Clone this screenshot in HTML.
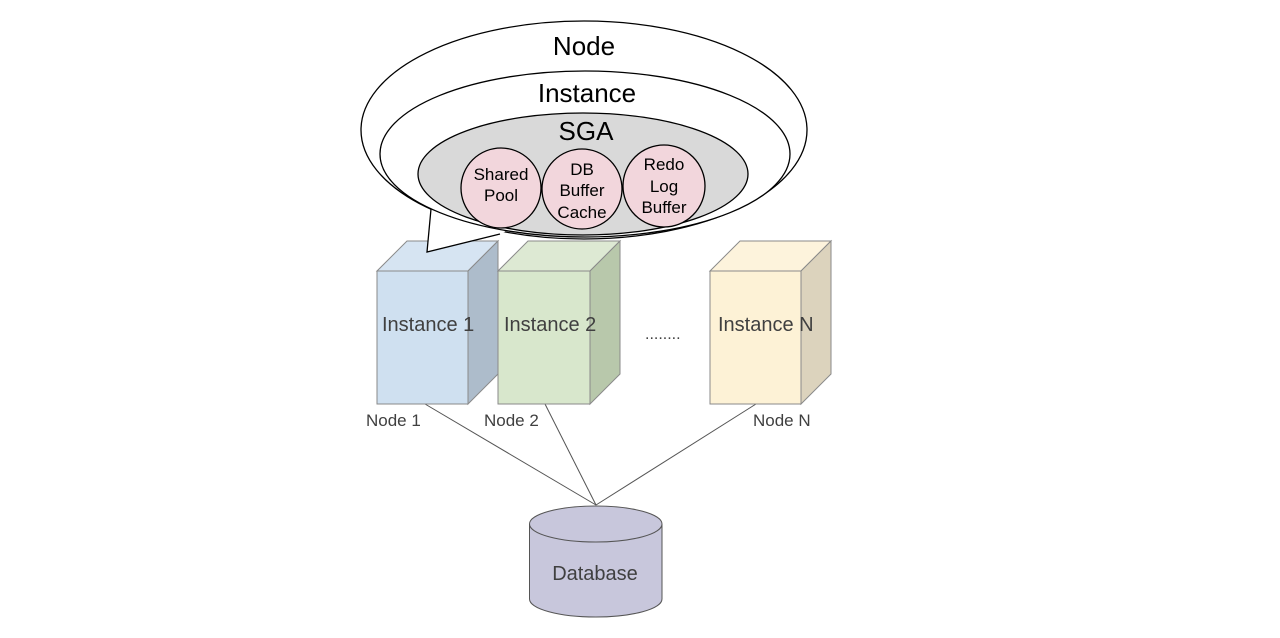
<!DOCTYPE html>
<html><head><meta charset="utf-8"><style>
html,body{margin:0;padding:0;background:#fff;}
svg{display:block;}
text{font-family:"Liberation Sans",sans-serif;}
</style></head><body>
<svg width="1280" height="638" viewBox="0 0 1280 638" xmlns="http://www.w3.org/2000/svg">
<g stroke="#555" stroke-width="1" fill="none">
<line x1="425" y1="404" x2="596" y2="505"/>
<line x1="545" y1="404" x2="596" y2="505"/>
<line x1="756" y1="404" x2="596" y2="505"/>
</g>
<!-- boxes -->
<g stroke="#8a8a8a" stroke-width="1">
<polygon points="377,271 407,241 498,241 468,271" fill="#d6e4f2"/>
<polygon points="468,271 498,241 498,374 468,404" fill="#adbccb"/>
<rect x="377" y="271" width="91" height="133" fill="#cfe0f0"/>
<polygon points="498,271 528,241 620,241 590,271" fill="#dde9d3"/>
<polygon points="590,271 620,241 620,374 590,404" fill="#b8c8ab"/>
<rect x="498" y="271" width="92" height="133" fill="#d8e7cc"/>
<polygon points="710,271 740,241 831,241 801,271" fill="#fdf3dc"/>
<polygon points="801,271 831,241 831,374 801,404" fill="#dcd3bd"/>
<rect x="710" y="271" width="91" height="133" fill="#fdf2d6"/>
</g>
<!-- Node ellipse -->
<ellipse cx="584" cy="130" rx="223" ry="109" fill="#fff" stroke="#000" stroke-width="1.3"/>
<!-- callout tail -->
<polygon points="431,205 427,252 505,232 500,222" fill="#fff"/>
<polyline points="431,209 427,252 500,234" fill="none" stroke="#000" stroke-width="1.3"/>
<!-- Instance ellipse -->
<ellipse cx="585" cy="154" rx="205" ry="83" fill="#fff" stroke="#000" stroke-width="1.3"/>
<!-- SGA -->
<ellipse cx="583" cy="174" rx="165" ry="61" fill="#d9d9d9" stroke="#000" stroke-width="1.3"/>
<text x="584" y="55" font-size="26" text-anchor="middle" fill="#000">Node</text>
<text x="587" y="102" font-size="26" text-anchor="middle" fill="#000">Instance</text>
<text x="586" y="140" font-size="26" text-anchor="middle" fill="#000">SGA</text>
<g fill="#f2d6dc" stroke="#000" stroke-width="1.3">
<circle cx="501" cy="188" r="40"/>
<circle cx="582" cy="189" r="40"/>
<circle cx="664" cy="186" r="41"/>
</g>
<g font-size="17" text-anchor="middle" fill="#000">
<text x="501" y="180">Shared</text><text x="501" y="201">Pool</text>
<text x="582" y="175">DB</text><text x="582" y="196">Buffer</text><text x="582" y="218">Cache</text>
<text x="664" y="170">Redo</text><text x="664" y="192">Log</text><text x="664" y="213">Buffer</text>
</g>
<g font-size="20" fill="#404040">
<text x="382" y="331">Instance 1</text>
<text x="504" y="331">Instance 2</text>
<text x="718" y="331">Instance N</text>
<text x="645" y="339" font-size="16">........</text>
</g>
<g font-size="17" fill="#404040">
<text x="366" y="426">Node 1</text>
<text x="484" y="426">Node 2</text>
<text x="753" y="426">Node N</text>
</g>
<!-- database -->
<path d="M529.5,524 L529.5,599 A66.25,18 0 0 0 662,599 L662,524" fill="#c8c7dc" stroke="#555" stroke-width="1"/>
<ellipse cx="595.75" cy="524" rx="66.25" ry="18" fill="#c8c7dc" stroke="#555" stroke-width="1"/>
<text x="595" y="580" font-size="20" text-anchor="middle" fill="#404040">Database</text>
</svg>
</body></html>
